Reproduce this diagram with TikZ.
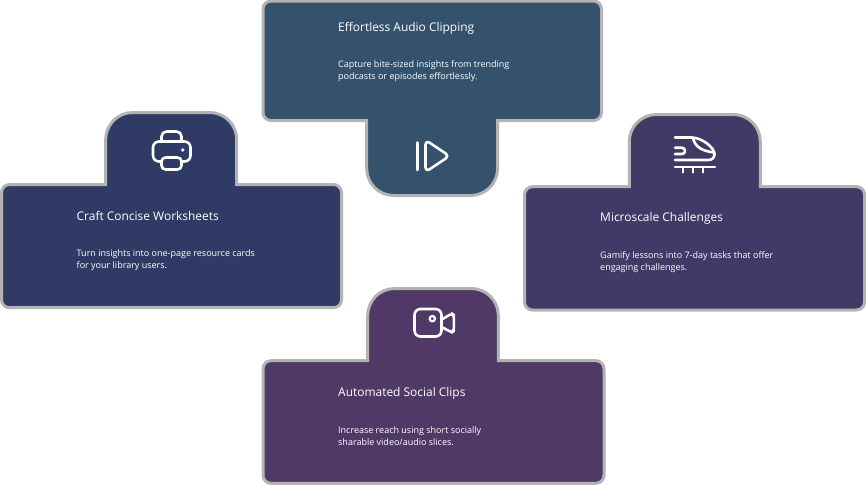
\documentclass[tikz,border=0pt]{standalone}
\usepackage{fontspec}
\setmainfont{Open Sans}
\usepackage{xcolor}
\usetikzlibrary{positioning}

\definecolor{cardline}{HTML}{B3B3B3}
\definecolor{audiofill}{HTML}{34526B}
\definecolor{sheetfill}{HTML}{2F3B65}
\definecolor{trainfill}{HTML}{3F3A66}
\definecolor{videofill}{HTML}{503966}

\begin{document}
\begin{tikzpicture}[
  x=1pt, y=-1pt,
  card/.style={draw=cardline, line width=3pt, line join=miter},
  head/.style={inner sep=0pt, anchor=base west, text=white, font=\fontsize{11.95}{15}\selectfont},
  blurb/.style={inner sep=0pt, anchor=north west, align=left, text=white, font=\fontsize{9}{12}\selectfont},
  icon/.style={draw=white, line width=2.6pt, line cap=round, line join=round}
]
\useasboundingbox (0,0) rectangle (866,485);

% cards
\draw[card, fill=audiofill] (366.7,120.5) [rounded corners=8pt] -- (263,120.5) -- (263,1) -- (601.5,1) -- (601.5,120.5)
  [sharp corners] -- (497.6,120.5) [rounded corners=27pt] -- (497.6,195.5) -- (366.7,195.5) [sharp corners] -- cycle;
\draw[card, fill=sheetfill] (105.7,184.5) [rounded corners=8pt] -- (1.5,184.5) -- (1.5,307.7) -- (341.5,307.7) -- (341.5,184.5)
  [sharp corners] -- (236.7,184.5) [rounded corners=27pt] -- (236.7,112.5) -- (105.7,112.5) [sharp corners] -- cycle;
\draw[card, fill=trainfill] (629.3,186.7) [rounded corners=8pt] -- (524.5,186.7) -- (524.5,310) -- (864.5,310) -- (864.5,186.7)
  [sharp corners] -- (760.3,186.7) [rounded corners=27pt] -- (760.3,114.5) -- (629.3,114.5) [sharp corners] -- cycle;
\draw[card, fill=videofill] (367.7,360.7) [rounded corners=8pt] -- (263,360.7) -- (263,483.3) -- (604,483.3) -- (604,360.7)
  [sharp corners] -- (498.3,360.7) [rounded corners=27pt] -- (498.3,288.5) -- (367.7,288.5) [sharp corners] -- cycle;

% texts
\node[head] (audiohead) at (338,31.2) {Effortless Audio Clipping};
\node[blurb] (audioblurb) at (338,60) {Capture bite-sized insights from trending\\podcasts or episodes effortlessly.};
\node[head] (sheethead) at (76.5,220) {Craft Concise Worksheets};
\node[blurb] (sheetblurb) at (76.5,249) {Turn insights into one-page resource cards\\for your library users.};
\node[head] (trainhead) at (600,221.7) {Microscale Challenges};
\node[blurb] (trainblurb) at (600,251) {Gamify lessons into 7-day tasks that offer\\engaging challenges.};
\node[head] (videohead) at (338,396.7) {Automated Social Clips};
\node[blurb] (videoblurb) at (338,426) {Increase reach using short socially\\sharable video/audio slices.};

% play icon
\draw[icon] (417.3,142.5) -- (417.3,170);
\draw[icon, rounded corners=4.5pt] (425.5,140) -- (449.5,156) -- (425.5,172) -- cycle;

% printer icon
\draw[icon, rounded corners=5pt] (161.5,141.5) -- (161.5,131.5) -- (181.5,131.5) -- (181.5,141.5);
\draw[icon, rounded corners=6pt] (161,161.5) -- (153,161.5) -- (153,141.5) -- (190.5,141.5) -- (190.5,161.5) -- (182,161.5);
\draw[icon, rounded corners=4pt] (161.5,157.5) rectangle (181.5,169.5);
\fill[white] (182.7,150) circle (1.9pt);

% train icon
\draw[icon] (675,137.5) -- (692,137.5) .. controls (702,138) and (714,147) .. (714.5,154) .. controls (714.5,158) and (712,160) .. (708,160) -- (675,160);
\draw[icon] (693,138) .. controls (695,147) and (702,151) .. (714,152.5);
\draw[icon] (675,147.7) -- (682,147.7) .. controls (686,148) and (686,154) .. (682,154) -- (675,154);
\draw[icon] (675,167) -- (715,167);
\foreach \tiex in {683.3, 693.3, 703.3}
  \draw[icon, line width=2pt] (\tiex,167) -- (\tiex,172.5);

% camera icon
\draw[icon, rounded corners=6pt] (414.5,309) rectangle (441.5,336.5);
\draw[icon, line width=2.2pt] (432.3,318.7) circle (2.7pt);
\draw[icon, rounded corners=2.5pt] (442.5,319) -- (452,313.5) -- (453.8,315) -- (453.8,331) -- (452,332.5) -- (442.5,327.5);
\end{tikzpicture}
\end{document}
